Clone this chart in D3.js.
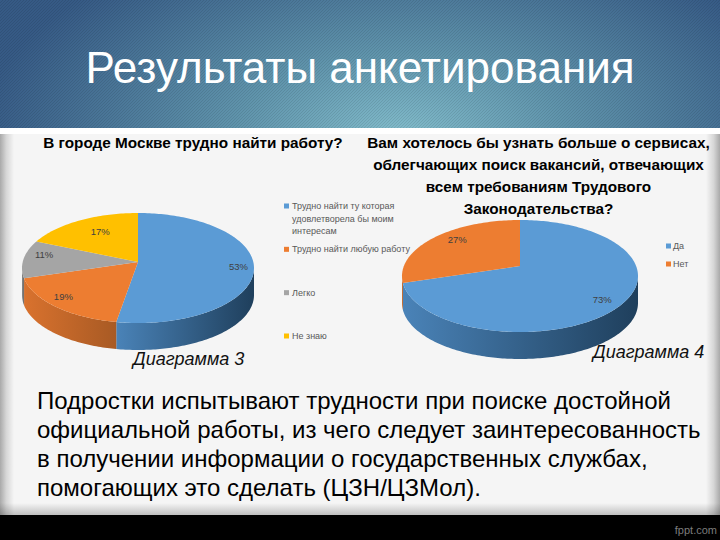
<!DOCTYPE html>
<html>
<head>
<meta charset="utf-8">
<script src="https://cdn.jsdelivr.net/npm/d3@7"></script>
<style>
  html, body { margin: 0; padding: 0; background: #000; }
  svg { display: block; }
  text { font-family: "Liberation Sans", Arial, sans-serif; }
</style>
</head>
<body>
<div id="chart"></div>
<script>
const slideTitle = 'Результаты анкетирования'

const workCategories = ['Трудно найти ту которая удовлетворела бы моим интересам', 'Трудно найти любую работу', 'Легко', 'Не знаю']
const workValues = [53, 19, 11, 17]
const workQuestion = ['В городе Москве трудно найти работу?']
const workCaption = 'Диаграмма 3'

const serviceCategories = ['Да', 'Нет']
const serviceValues = [73, 27]
const serviceQuestion = [
  'Вам хотелось бы узнать больше о сервисах,',
  'облегчающих поиск вакансий, отвечающих',
  'всем требованиям Трудового',
  'Законодательства?'
]
const serviceCaption = 'Диаграмма 4'

const conclusion = [
  'Подростки испытывают трудности при поиске достойной',
  'официальной работы, из чего следует заинтересованность',
  'в получении информации о государственных службах,',
  'помогающих это сделать (ЦЗН/ЦЗМол).'
]

const width = 720
const height = 540

const svg = d3.select('#chart').append('svg')
  .attr('width', width)
  .attr('height', height)

const defs = svg.append('defs')

const headerFill = defs.append('radialGradient')
  .attr('id', 'header-fill')
  .attr('gradientUnits', 'userSpaceOnUse')
  .attr('cx', 400).attr('cy', 135).attr('r', 420)
  .attr('gradientTransform', 'translate(400 135) scale(1 .5) translate(-400 -135)')
headerFill.append('stop').attr('offset', 0).attr('stop-color', '#82bccb')
headerFill.append('stop').attr('offset', 0.4).attr('stop-color', '#5f93ab')
headerFill.append('stop').attr('offset', 1).attr('stop-color', '#365a85')

const weave = defs.append('pattern')
  .attr('id', 'weave')
  .attr('width', 3).attr('height', 3)
  .attr('patternUnits', 'userSpaceOnUse')
weave.append('path')
  .attr('d', 'M0 3L3 0')
  .attr('stroke', '#000')
  .attr('stroke-opacity', 0.09)

const sideFade = (id, x1, x2) => {
  const g = defs.append('linearGradient').attr('id', id).attr('x1', x1).attr('x2', x2)
  g.append('stop').attr('offset', 0).attr('stop-color', '#a9a9a9')
  g.append('stop').attr('offset', 0.45).attr('stop-color', '#d6d6d6')
  g.append('stop').attr('offset', 1).attr('stop-color', '#f5f5f5')
}
sideFade('fade-left', 0, 1)
sideFade('fade-right', 1, 0)

const bottomFade = defs.append('linearGradient')
  .attr('id', 'fade-bottom').attr('x1', 0).attr('x2', 0).attr('y1', 0).attr('y2', 1)
bottomFade.append('stop').attr('offset', 0).attr('stop-color', '#000').attr('stop-opacity', 0)
bottomFade.append('stop').attr('offset', 1).attr('stop-color', '#000').attr('stop-opacity', 0.22)

// slide background
svg.append('rect').attr('width', width).attr('height', height).attr('fill', '#f5f5f5')
svg.append('rect').attr('width', width).attr('height', 128).attr('fill', 'url(#header-fill)')
svg.append('rect').attr('width', width).attr('height', 128).attr('fill', 'url(#weave)')
svg.append('rect').attr('y', 128).attr('width', width).attr('height', 6).attr('fill', '#fff')
svg.append('rect').attr('y', 134).attr('width', 14).attr('height', 381).attr('fill', 'url(#fade-left)')
svg.append('rect').attr('x', width - 14).attr('y', 134).attr('width', 14).attr('height', 381).attr('fill', 'url(#fade-right)')
svg.append('rect').attr('y', 503).attr('width', width).attr('height', 12).attr('fill', 'url(#fade-bottom)')
svg.append('rect').attr('y', 515).attr('width', width).attr('height', 25).attr('fill', '#000')

svg.append('text')
  .attr('x', 360).attr('y', 83)
  .attr('text-anchor', 'middle')
  .attr('font-size', 44)
  .attr('fill', '#fff')
  .text(slideTitle)

svg.append('text')
  .attr('x', 717).attr('y', 534)
  .attr('text-anchor', 'end')
  .attr('font-size', 11)
  .attr('fill', '#7c7c7c')
  .text('fppt.com')

const topColors = ['#5b9bd5', '#ed7d31', '#a5a5a5', '#ffc000']
const wallColors = [['#4a83b8', '#1f3f5c'], ['#d9722e', '#a85a24'], ['#8a8a8a', '#6a6a6a'], ['#d6a200', '#a87f00']]

const toPoint = (o, theta, dy = 0) => [
  o.cx + o.rx * Math.sin(theta),
  o.cy - o.ry * Math.cos(theta) + dy
]

const line = d3.line()

function drawPie (o, values) {
  const g = svg.append('g')
  const arcs = d3.pie().sort(null)(values)

  arcs.forEach((a, i) => {
    // only the front half of the rim is visible
    const from = Math.max(a.startAngle, Math.PI / 2)
    const to = Math.min(a.endAngle, Math.PI * 1.5)
    if (to <= from) return
    const steps = d3.range(from, to, 0.02).concat(to)
    const top = steps.map(t => toPoint(o, t))
    const bottom = steps.map(t => toPoint(o, t, o.depth)).reverse()
    const id = `wall-${o.cx}-${i}`
    const xs = top.map(p => p[0])
    const grad = defs.append('linearGradient')
      .attr('id', id)
      .attr('gradientUnits', 'userSpaceOnUse')
      .attr('x1', d3.min(xs)).attr('x2', d3.max(xs))
      .attr('y1', 0).attr('y2', 0)
    grad.append('stop').attr('offset', 0).attr('stop-color', wallColors[i][0])
    grad.append('stop').attr('offset', 1).attr('stop-color', wallColors[i][1])
    g.append('path')
      .attr('d', line(top.concat(bottom)) + 'Z')
      .attr('fill', `url(#${id})`)
  })

  arcs.forEach((a, i) => {
    const rim = d3.range(a.startAngle, a.endAngle, 0.02).concat(a.endAngle)
      .map(t => toPoint(o, t))
    g.append('path')
      .attr('d', line([[o.cx, o.apexY]].concat(rim)) + 'Z')
      .attr('fill', topColors[i])
  })

  g.selectAll('text')
    .data(arcs)
    .join('text')
    .attr('x', (d, i) => o.cx + o.rx * o.labelAt[i] * Math.sin((d.startAngle + d.endAngle) / 2))
    .attr('y', (d, i) => o.apexY - o.ry * o.labelAt[i] * Math.cos((d.startAngle + d.endAngle) / 2) + 3)
    .attr('text-anchor', 'middle')
    .attr('font-family', '"Open Sans", sans-serif')
    .attr('font-size', 9.5)
    .attr('fill', '#404040')
    .text(d => `${d.value}%`)
}

drawPie({ cx: 138, cy: 268, apexY: 262, rx: 116, ry: 55, depth: 27, labelAt: [0.87, 0.91, 0.82, 0.64] }, workValues)
drawPie({ cx: 520, cy: 276, apexY: 266, rx: 118, ry: 56, depth: 27, labelAt: [0.93, 0.71] }, serviceValues)

function drawQuestion (lines, x) {
  svg.append('g').selectAll('text')
    .data(lines)
    .join('text')
    .attr('x', x)
    .attr('y', (d, i) => 148 + i * 22)
    .attr('text-anchor', 'middle')
    .attr('font-family', '"Open Sans", sans-serif')
    .attr('font-weight', 700)
    .attr('font-size', 15.3)
    .attr('fill', '#000')
    .text(d => d)
}
drawQuestion(workQuestion, 193)
drawQuestion(serviceQuestion, 538.5)

const legendText = (g, x, y, label) => g.append('text')
  .attr('x', x).attr('y', y)
  .attr('font-family', '"Open Sans", sans-serif')
  .attr('font-size', 9)
  .attr('fill', '#595959')
  .text(label)

// left legend, the first entry is wrapped on three lines
const workLegendY = d3.scalePoint().domain(d3.range(workCategories.length)).range([206, 336])
const workLegend = svg.append('g')
workCategories.forEach((c, i) => {
  const y = workLegendY(i)
  workLegend.append('rect')
    .attr('x', 284).attr('y', y - 2.5)
    .attr('width', 5).attr('height', 5)
    .attr('fill', topColors[i])
  const words = c.split(' ')
  const wrapped = i === 0
    ? [words.slice(0, 4).join(' '), words.slice(4, 7).join(' '), words.slice(7).join(' ')]
    : [c]
  wrapped.forEach((t, j) => legendText(workLegend, 292, y + 3 + j * 12.5, t))
})

const serviceLegendY = d3.scalePoint().domain(d3.range(serviceCategories.length)).range([246, 264])
const serviceLegend = svg.append('g')
serviceCategories.forEach((c, i) => {
  const y = serviceLegendY(i)
  serviceLegend.append('rect')
    .attr('x', 666).attr('y', y - 2.5)
    .attr('width', 5).attr('height', 5)
    .attr('fill', topColors[i])
  legendText(serviceLegend, 673, y + 3, c)
})

const caption = (x, y, t) => svg.append('text')
  .attr('x', x).attr('y', y)
  .attr('font-style', 'italic')
  .attr('font-size', 18)
  .attr('fill', '#111')
  .text(t)
caption(133, 365, workCaption)
caption(593, 358, serviceCaption)

svg.append('g').selectAll('text')
  .data(conclusion)
  .join('text')
  .attr('x', 37)
  .attr('y', (d, i) => 408.5 + i * 29.3)
  .attr('font-size', 24)
  .attr('fill', '#000')
  .text(d => d)
</script>
</body>
</html>
